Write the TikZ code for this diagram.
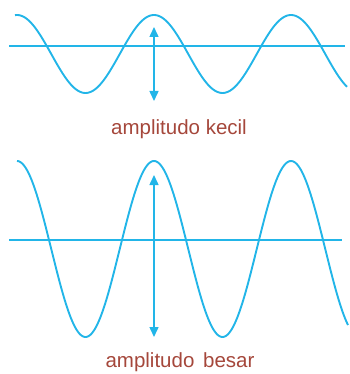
\documentclass[tikz,border=0pt]{standalone}
\usepackage{fontspec}
\setmainfont{Liberation Sans}
\usetikzlibrary{arrows.meta}
\definecolor{wavecol}{HTML}{22B5E8}
\definecolor{labelcol}{HTML}{A5473B}
\tikzset{
  wave/.style={draw=wavecol, line width=1.9pt, line join=round},
  axisline/.style={draw=wavecol, line width=1.6pt},
  amparrow/.style={draw=wavecol, line width=1.5pt, {Triangle[width=9pt,length=10pt]}-{Triangle[width=9pt,length=10pt]}, fill=wavecol},
  lab/.style={text=labelcol, font=\fontsize{20.5}{24}\selectfont, inner sep=0pt, anchor=center}
}
\begin{document}
\begin{tikzpicture}[x=1pt, y=-1pt]
\useasboundingbox (0,0) rectangle (349,374);
% top wave
\coordinate (a1) at (9,46);
\coordinate (a2) at (345,46);
\draw[axisline] (a1) -- (a2);
\draw[wave] plot[domain=15:347, samples=240, smooth] (\x, {54 - 39*cos(((\x-154)/137)*360)});
\coordinate (t1) at (154,27);
\coordinate (t2) at (154,101);
\draw[amparrow] (t1) -- (t2);
\node[lab] (l1) at (179,129) {amplitudo kecil};
% bottom wave
\coordinate (b1) at (9,240);
\coordinate (b2) at (342,240);
\draw[axisline] (b1) -- (b2);
\draw[wave] plot[domain=17:348, samples=240, smooth] (\x, {249 - 88*cos(((\x-154)/137)*360)});
\coordinate (u1) at (154,175);
\coordinate (u2) at (154,337);
\draw[amparrow] (u1) -- (u2);
\node[lab] (l2) at (180,362) {amplitudo\hspace{3pt} besar};
\end{tikzpicture}
\end{document}
